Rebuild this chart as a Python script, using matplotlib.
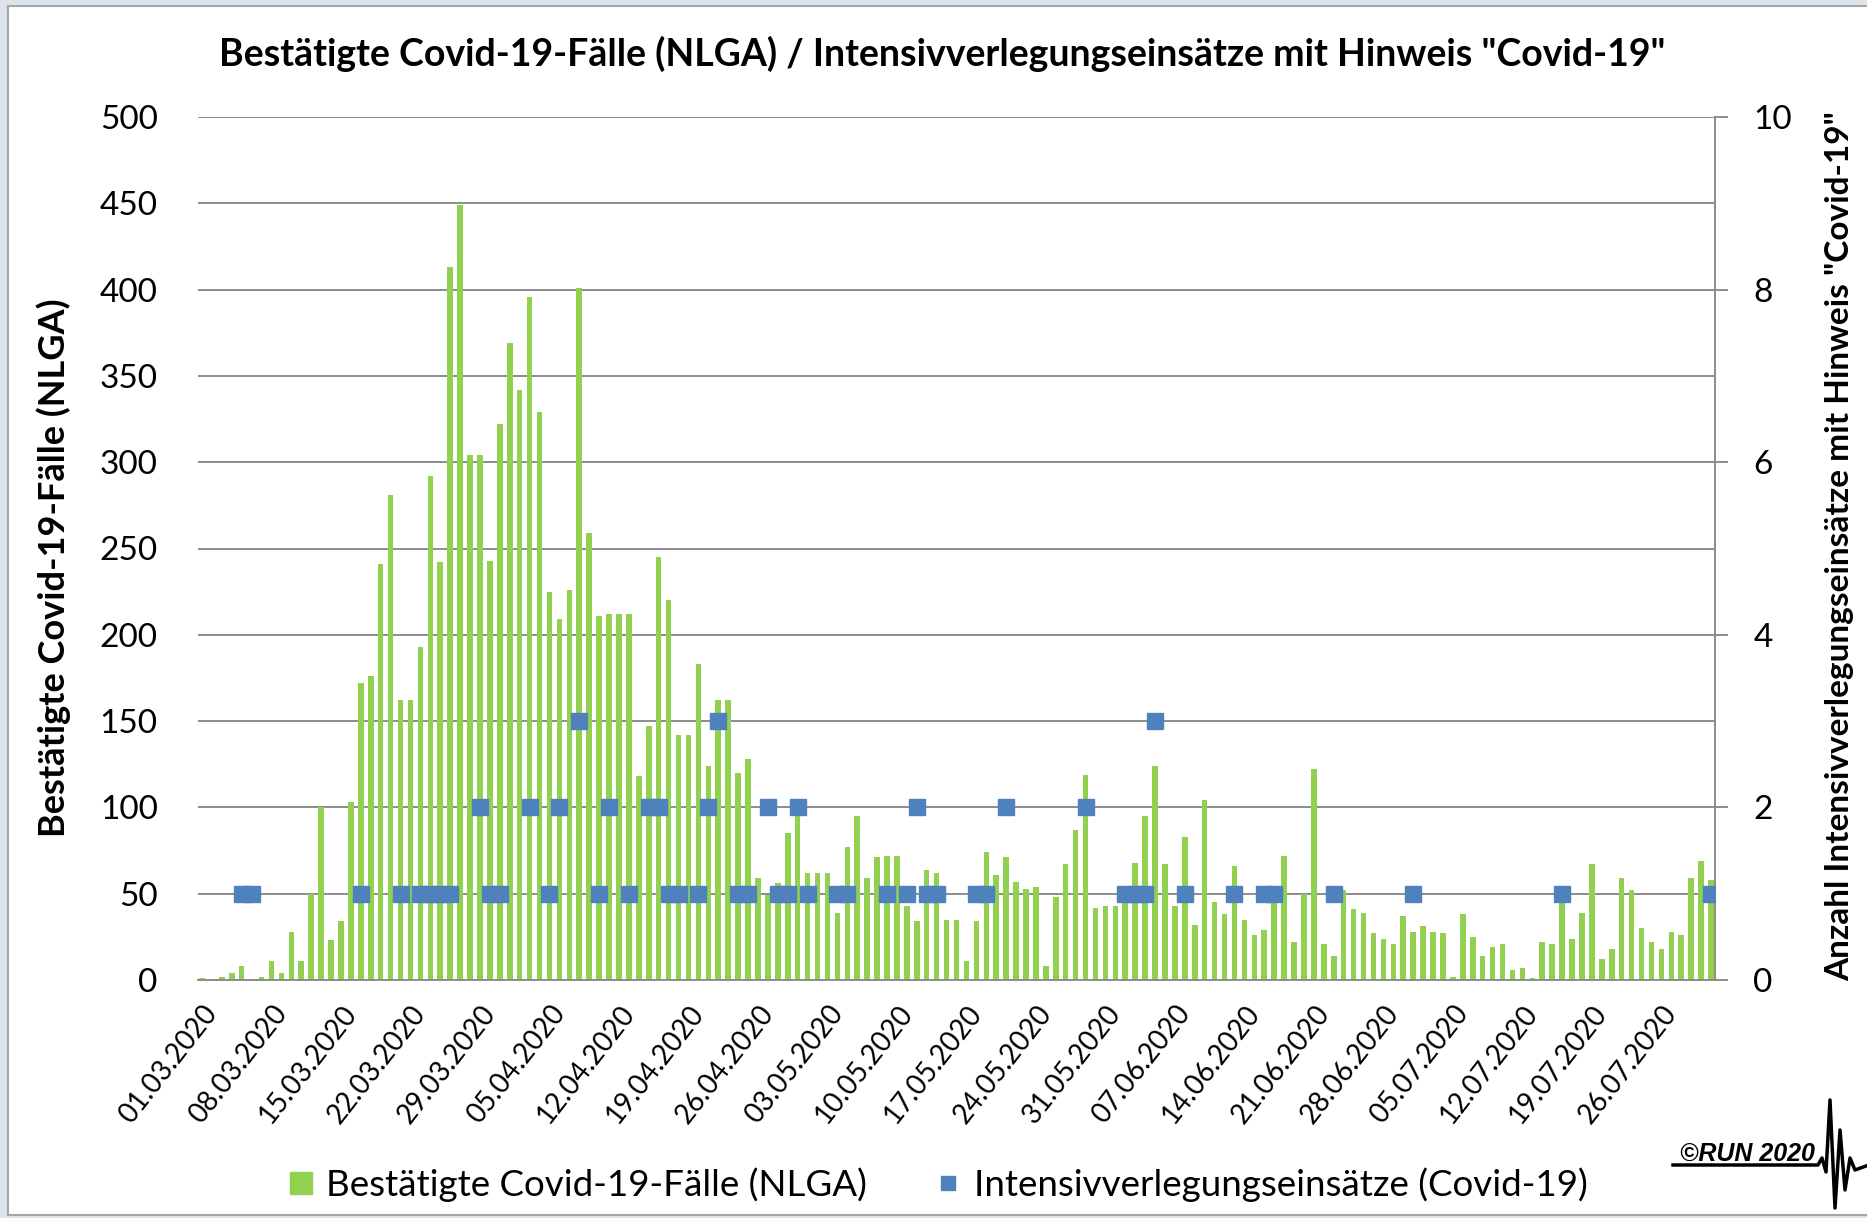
import matplotlib.pyplot as plt
import matplotlib.patches as mpatches
import matplotlib.lines as mlines
import pandas as pd
import numpy as np

plt.rcParams['font.family'] = ['Lato', 'DejaVu Sans']

# daily confirmed cases (NLGA), 01.03.2020 - 31.07.2020
start = '2020-03-01'
cases = [1, 0, 2, 4, 8, 0, 2, 11, 4, 28,
         11, 50, 100, 23, 34, 103, 172, 176, 241, 281,
         162, 162, 193, 292, 242, 413, 449, 304, 304, 243,
         322, 369, 342, 396, 329, 225, 209, 226, 401, 259,
         211, 212, 212, 212, 118, 147, 245, 220, 142, 142,
         183, 124, 162, 162, 120, 128, 59, 49, 56, 85,
         96, 62, 62, 62, 39, 77, 95, 59, 71, 72,
         72, 43, 34, 64, 62, 35, 35, 11, 34, 74,
         61, 71, 57, 53, 54, 8, 48, 67, 87, 119,
         42, 43, 43, 46, 68, 95, 124, 67, 43, 83,
         32, 104, 45, 38, 66, 35, 26, 29, 46, 72,
         22, 50, 122, 21, 14, 52, 41, 39, 27, 24,
         21, 37, 28, 31, 28, 27, 2, 38, 25, 14,
         19, 21, 6, 7, 1, 22, 21, 50, 24, 39,
         67, 12, 18, 59, 52, 30, 22, 18, 28, 26,
         59, 69, 58]

# intensive care transfers with hint "Covid-19"
icu_dates = ['05.03.2020', '06.03.2020', '17.03.2020', '21.03.2020', '23.03.2020',
             '24.03.2020', '25.03.2020', '26.03.2020', '29.03.2020', '30.03.2020',
             '31.03.2020', '03.04.2020', '05.04.2020', '06.04.2020', '08.04.2020',
             '10.04.2020', '11.04.2020', '13.04.2020', '15.04.2020', '16.04.2020',
             '17.04.2020', '18.04.2020', '20.04.2020', '21.04.2020', '22.04.2020',
             '24.04.2020', '25.04.2020', '27.04.2020', '28.04.2020', '29.04.2020',
             '30.04.2020', '01.05.2020', '04.05.2020', '05.05.2020', '09.05.2020',
             '11.05.2020', '12.05.2020', '13.05.2020', '14.05.2020', '18.05.2020',
             '19.05.2020', '21.05.2020', '29.05.2020', '02.06.2020', '03.06.2020',
             '04.06.2020', '05.06.2020', '08.06.2020', '13.06.2020', '16.06.2020',
             '17.06.2020', '23.06.2020', '01.07.2020', '16.07.2020', '31.07.2020']
icu_values = [1, 1, 1, 1, 1, 1, 1, 1, 2, 1,
              1, 2, 1, 2, 3, 1, 2, 1, 2, 2,
              1, 1, 1, 2, 3, 1, 1, 2, 1, 1,
              2, 1, 1, 1, 1, 1, 2, 1, 1, 1,
              1, 2, 2, 1, 1, 1, 3, 1, 1, 1,
              1, 1, 1, 1, 1]

dates = pd.date_range(start, periods=len(cases), freq='D')
labels = [d.strftime('%d.%m.%Y') for d in dates]
x = np.arange(len(cases))
icu_x = [labels.index(d) for d in icu_dates]

green = '#92d050'
blue = '#4f81bd'
grey = '#8c8c8c'

fig = plt.figure(figsize=(18.67, 12.18), dpi=100)
fig.patch.set_facecolor('#dde4ec')
fig.patches.append(mpatches.Rectangle((8 / 1867, 3 / 1218), 1.0, 1 - 9 / 1218,
                                      transform=fig.transFigure, facecolor='white',
                                      edgecolor='#a6a6a6', lw=1.5, zorder=-5))

ax = fig.add_axes([198 / 1867, 1 - 980 / 1218, (1715 - 198) / 1867, (980 - 117) / 1218])
ax.set_facecolor('none')
ax.bar(x, cases, width=0.56, color=green, zorder=2)
ax.set_xlim(-0.4, len(cases) - 0.6)
ax.set_ylim(0, 500)
ax.set_yticks(range(0, 501, 50))
ax.yaxis.grid(True, color=grey, lw=1.4, zorder=0)
ax.set_axisbelow(True)
for s in ['top', 'left', 'right']:
    ax.spines[s].set_visible(False)
ax.spines['bottom'].set_color(grey)
ax.spines['bottom'].set_linewidth(1.4)
ax.tick_params(axis='y', length=0, pad=29, labelsize=24)
ax.set_xticks(x[::7])
ax.set_xticklabels(labels[::7], rotation=52, ha='right', va='top',
                   rotation_mode='anchor', fontsize=20)
ax.tick_params(axis='x', length=0, pad=15)

ax2 = ax.twinx()
ax2.plot(icu_x, icu_values, 's', color=blue, ms=11, zorder=3)
ax2.set_ylim(0, 10)
ax2.set_yticks(range(0, 11, 2))
for s in ['top', 'left', 'bottom']:
    ax2.spines[s].set_visible(False)
ax2.spines['right'].set_color(grey)
ax2.spines['right'].set_linewidth(1.4)
ax2.tick_params(axis='y', direction='out', length=9.5, width=1.4, color=grey,
                pad=18, labelsize=24)

fig.text(942 / 1867, 1 - 54 / 1218,
         'Bestätigte Covid-19-Fälle (NLGA) / Intensivverlegungseinsätze mit Hinweis "Covid-19"',
         ha='center', va='center', fontsize=27, fontweight='bold')
fig.text(54 / 1867, 1 - 568 / 1218, 'Bestätigte Covid-19-Fälle (NLGA)',
         rotation=90, ha='center', va='center', fontsize=26, fontweight='bold')
fig.text(1840 / 1867, 1 - 546 / 1218,
         'Anzahl Intensivverlegungseinsätze mit Hinweis "Covid-19"',
         rotation=90, ha='center', va='center', fontsize=24, fontweight='bold')

h1 = mlines.Line2D([], [], marker='s', ls='none', color=green, ms=16)
h2 = mlines.Line2D([], [], marker='s', ls='none', color=blue, ms=10)
fig.legend([h1, h2], ['Bestätigte Covid-19-Fälle (NLGA)', 'Intensivverlegungseinsätze (Covid-19)'],
           loc='center', bbox_to_anchor=(935 / 1867, 1 - 1185 / 1218), ncol=2,
           frameon=False, fontsize=26.5, handletextpad=0.2, columnspacing=1.7,
           handlelength=1.0)

# copyright mark
fig.text(1747 / 1867, 1 - 1154 / 1218, '©RUN 2020', ha='center', va='center',
         fontsize=18, fontweight='bold', style='italic', family='Liberation Sans')
lx = np.array([1673, 1818, 1822, 1826, 1830, 1835, 1840, 1845, 1850, 1855, 1866])
ly = np.array([1165, 1165, 1158, 1172, 1100, 1208, 1130, 1190, 1158, 1170, 1166])
fig.add_artist(mlines.Line2D(lx / 1867, 1 - ly / 1218, color='black', lw=2.5,
                             transform=fig.transFigure))

fig.savefig('out.png', dpi=100, facecolor=fig.get_facecolor())
